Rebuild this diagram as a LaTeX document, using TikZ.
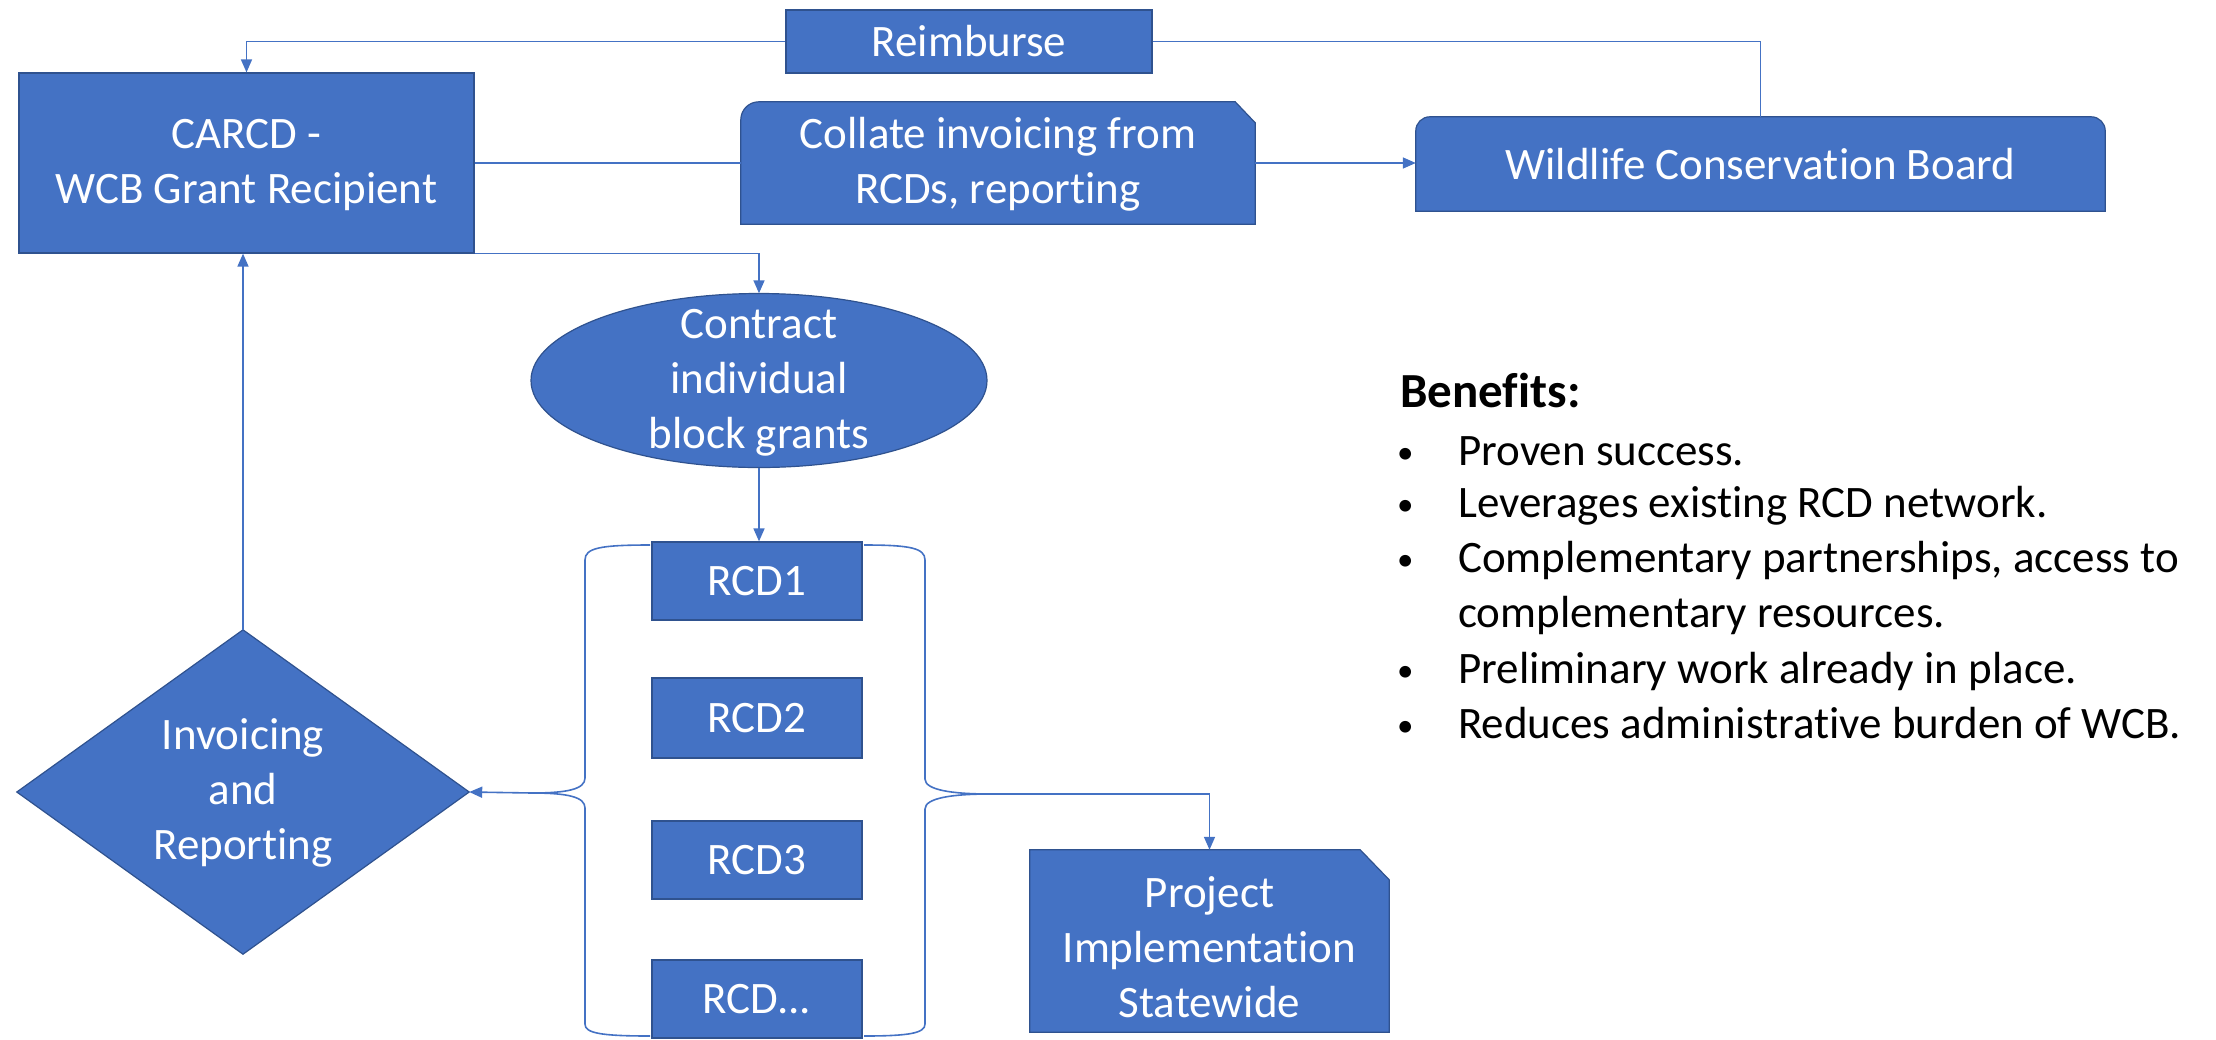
\documentclass[tikz,border=0pt]{standalone}
\usepackage{fontspec}
\setmainfont{Carlito}[Ligatures=NoCommon]
\usetikzlibrary{arrows.meta,backgrounds}
\definecolor{officeblue}{HTML}{4472C4}
\definecolor{officeedge}{HTML}{2F528F}
\newcommand{\bul}{\makebox[61pt][l]{\raisebox{2pt}{\fontsize{33}{33}\selectfont •}}}
\newcommand{\topstr}[1][40pt]{\rule{0pt}{#1}}
\newcommand{\botstr}{\rule[-15pt]{0pt}{15pt}}
\begin{document}
\begin{tikzpicture}[x=1pt,y=-1pt,
  box/.style={rectangle, inner sep=0pt, text=white, align=center, font=\fontsize{45}{55}\selectfont},
  shapefill/.style={fill=officeblue, draw=officeedge, line width=1.2pt},
  conn/.style={draw=officeblue, line width=1.6pt},
  arr/.style={-{Triangle[length=13pt,width=11pt]}},
  bentext/.style={anchor=base west, inner sep=0pt, font=\fontsize{45}{55}\selectfont, text=black}
]
\useasboundingbox (0,0) rectangle (2216,1039);

% nodes
\node[box, shapefill, minimum width=366pt, minimum height=63pt] (reim) at (969,41.5) {Reimburse};
\node[box, shapefill, minimum width=455pt, minimum height=180pt] (carcd) at (246.5,163) {\topstr CARCD -\\WCB Grant Recipient\botstr};
\node[box, minimum width=514pt, minimum height=122pt] (col) at (998,163) {\topstr Collate invoicing from\\RCDs, reporting\botstr};
\node[box, minimum width=689pt, minimum height=94pt] (wcb) at (1760.5,164) {Wildlife Conservation Board};
\node[box, minimum width=456pt, minimum height=174pt] (con) at (759,380.5) {\topstr Contract\\individual\\block grants\botstr};
\node[box, shapefill, minimum width=210pt, minimum height=78pt] (rcd1) at (757,581) {RCD1};
\node[box, shapefill, minimum width=210pt, minimum height=80pt] (rcd2) at (757,718) {RCD2};
\node[box, shapefill, minimum width=210pt, minimum height=78pt] (rcd3) at (757,860) {RCD3};
\node[box, shapefill, minimum width=210pt, minimum height=78pt] (rcd4) at (757,999) {RCD...};
\node[box, minimum width=452pt, minimum height=324pt] (inv) at (243,792) {\topstr Invoicing\\and\\Reporting\botstr};
\node[box, minimum width=359pt, minimum height=182pt] (proj) at (1209.5,941) {\topstr[57pt]Project\\Implementation\\Statewide\botstr};

\coordinate (lbt) at (532,793);
\coordinate (rbt) at (990,794);

\begin{scope}[on background layer]
  % collate: rounded top-left, snipped top-right
  \path[shapefill] (col.south west) -- ([yshift=-18pt]col.north west)
     arc[start angle=180, end angle=90, radius=18pt]
     -- ([xshift=-20pt]col.north east) -- ([yshift=-21pt]col.north east)
     -- (col.south east) -- cycle;
  % WCB: rounded top corners
  \path[shapefill] (wcb.south west) -- ([yshift=-14pt]wcb.north west)
     arc[start angle=180, end angle=90, radius=14pt]
     -- ([xshift=-14pt]wcb.north east)
     arc[start angle=90, end angle=0, radius=14pt]
     -- (wcb.south east) -- cycle;
  % project: snipped top-right
  \path[shapefill] (proj.south west) -- (proj.north west)
     -- ([xshift=-29pt]proj.north east) -- ([yshift=-30pt]proj.north east)
     -- (proj.south east) -- cycle;
  % ellipse
  \path[shapefill] (con.center) ellipse[x radius=228pt, y radius=87pt];
  % diamond
  \path[shapefill] (inv.north) -- (inv.east) -- (inv.south) -- (inv.west) -- cycle;
  % braces
  \draw[conn] (650,545) .. controls (600,545) and (585,548) .. (585,560)
     -- (585,778) .. controls (585,789) and (568,793) .. (lbt)
     .. controls (568,793) and (585,797) .. (585,808)
     -- (585,1024) .. controls (585,1033) and (600,1036) .. (650,1036);
  \draw[conn] (864,545) .. controls (910,545) and (925,548) .. (925,560)
     -- (925,779) .. controls (925,790) and (952,794) .. (rbt)
     .. controls (952,794) and (925,798) .. (925,809)
     -- (925,1024) .. controls (925,1033) and (910,1036) .. (864,1036);
\end{scope}

% connectors
\draw[conn] (wcb.north) |- (reim.east);
\draw[conn, arr] (reim.west) -| (carcd.north);
\draw[conn] (carcd.east) -- (col.west);
\draw[conn, arr] (col.east) -- (col.east -| wcb.west);
\draw[conn, arr] (carcd.south east) -| (con.north);
\draw[conn, arr] (con.south) -- (con.south |- rcd1.north);
\draw[conn, arr] (lbt) -- (inv.east);
\draw[conn, arr] (rbt) -| (proj.north);
\draw[conn, arr] (inv.north) -- (inv.north |- carcd.south);

% benefits
\node[bentext, font=\fontsize{49}{55}\selectfont\bfseries] (bh) at (1400,407) {Benefits:};
\node[bentext] (b1) at (1397,465) {\bul Proven success.};
\node[bentext] (b2) at (1397,517) {\bul Leverages existing RCD network.};
\node[bentext] (b3) at (1397,572) {\bul Complementary partnerships, access to};
\node[bentext] (b3b) at (1458,627) {complementary resources.};
\node[bentext] (b4) at (1397,683) {\bul Preliminary work already in place.};
\node[bentext] (b5) at (1397,738) {\bul Reduces administrative burden of WCB.};
\end{tikzpicture}
\end{document}
